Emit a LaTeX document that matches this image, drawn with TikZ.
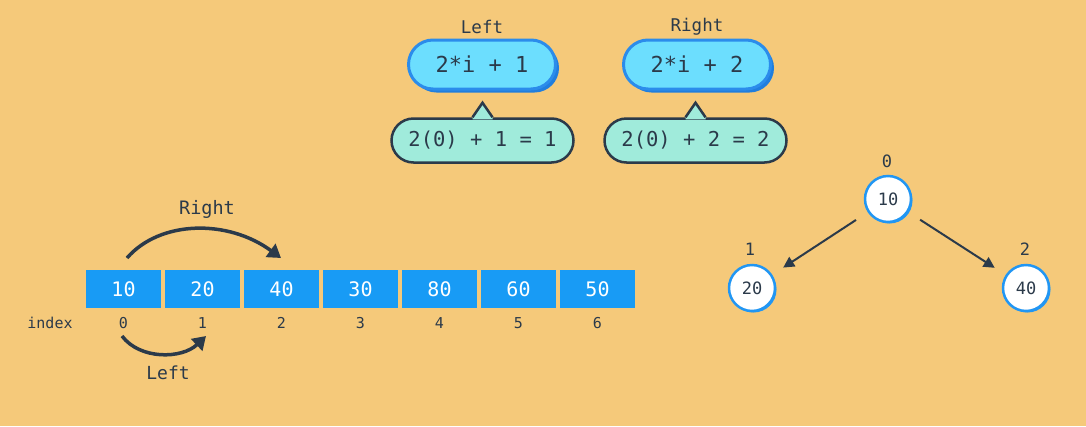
\documentclass[tikz,border=0pt]{standalone}
\usepackage{fontspec}
\setmonofont{DejaVu Sans Mono}
\usetikzlibrary{arrows.meta,shapes.misc,shadows}
\definecolor{bg}{RGB}{245,201,122}
\definecolor{cellblue}{RGB}{24,155,245}
\definecolor{pillfill}{RGB}{108,222,254}
\definecolor{pillborder}{RGB}{43,140,235}
\definecolor{pillshadow}{RGB}{32,126,222}
\definecolor{callfill}{RGB}{160,235,219}
\definecolor{dark}{RGB}{43,58,74}
\definecolor{circblue}{RGB}{33,150,243}
\tikzset{
  fs/.style={font=\ttfamily\fontsize{#1}{#1}\selectfont},
  pill/.style={rounded rectangle, minimum width=147pt, minimum height=49pt, inner sep=0pt,
    fill=pillfill, draw=pillborder, line width=3pt, text=dark, fs=22,
    drop shadow={shadow xshift=3.5pt, shadow yshift=-3.5pt, fill=pillshadow, opacity=1}},
  callout/.style={rounded rectangle, minimum width=182pt, minimum height=44pt, inner sep=0pt,
    fill=callfill, draw=dark, line width=2.5pt, text=dark, fs=20.5},
  tipline/.style={draw=dark, line width=2.5pt, line join=miter},
  lbl/.style={text=dark, inner sep=0pt},
  cell/.style={rectangle, fill=cellblue, minimum width=75pt, minimum height=38pt, inner sep=0pt,
    text=white, fs=20},
  idx/.style={text=dark, inner sep=0pt, fs=15},
  bigarrow/.style={draw=dark, line width=3.5pt, -{Triangle[length=13pt,width=16pt]}},
  treenode/.style={circle, minimum size=46pt, inner sep=0pt, fill=white, draw=circblue, line width=2.5pt,
    text=dark, fs=17, drop shadow={shadow xshift=1.5pt, shadow yshift=-1.5pt, fill=circblue, opacity=1}},
  treearrow/.style={draw=dark, line width=2pt, -{Triangle[length=11pt,width=11pt]}, shorten >=13pt, shorten <=14pt},
}
\begin{document}
\begin{tikzpicture}[x=1pt,y=-1pt]
\useasboundingbox[fill=bg] (0,0) rectangle (1086,426);

% top formulas
\node[lbl, fs=17.5] (tl) at (482,27) {Left};
\node[lbl, fs=17.5] (tr) at (697,27) {Right};
\node[pill] (lf) at (482,64.5) {2*i + 1};
\node[pill] (rf) at (697,64.5) {2*i + 2};

\node[callout] (lc) at (482.5,140.5) {2(0) + 1 = 1};
\node[callout] (rc) at (695.5,140.5) {2(0) + 2 = 2};
\foreach \n in {lc,rc}{
  \fill[callfill] ([xshift=-10pt]\n.north) -- ([yshift=14.5pt]\n.north) -- ([xshift=10pt]\n.north)
     -- ([xshift=10pt,yshift=-2pt]\n.north) -- ([xshift=-10pt,yshift=-2pt]\n.north) -- cycle;
  \draw[tipline] ([xshift=-10pt]\n.north) -- ([yshift=14.5pt]\n.north) -- ([xshift=10pt]\n.north);
}

% array
\foreach \i/\v in {0/10,1/20,2/40,3/30,4/80,5/60,6/50}{
  \node[cell] (c\i) at (123.5+79*\i,289) {\v};
  \node[idx] (i\i) at (123.5+79*\i,323) {\i};
}
\node[idx] (ix) at (50,323) {index};

% array arrows
\coordinate (ra) at (127,258);
\coordinate (rb) at (281,258);
\draw[bigarrow] (ra) .. controls (160,220) and (228,219) .. (rb);
\node[lbl, fs=18.5] (rl) at (207,209) {Right};
\coordinate (la) at (122,336);
\coordinate (lb) at (206,336);
\draw[bigarrow] (la) .. controls (140,360) and (182,359) .. (lb);
\node[lbl, fs=18] (ll) at (168,373) {Left};

% tree
\node[treenode] (t0) at (888,199) {10};
\node[treenode] (t1) at (752,288) {20};
\node[treenode] (t2) at (1026,288) {40};
\node[lbl, fs=17] (n0) at (887,161) {0};
\node[lbl, fs=17] (n1) at (750,249) {1};
\node[lbl, fs=17] (n2) at (1025,249) {2};
\draw[treearrow] (t0) -- (t1);
\draw[treearrow] (t0) -- (t2);
\end{tikzpicture}
\end{document}
